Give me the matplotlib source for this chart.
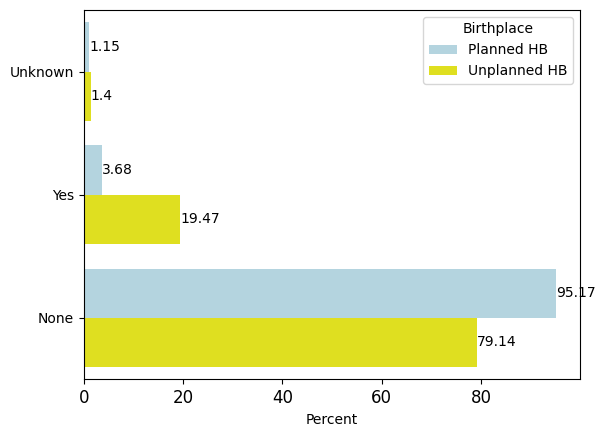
import matplotlib
matplotlib.use("Agg")
import matplotlib.pyplot as plt
import seaborn as sns
import pandas as pd

categories = ["Unknown", "Yes", "None"]
planned = [1.15, 3.68, 95.17]
unplanned = [1.4, 19.47, 79.14]
hue_labels = ["Planned HB", "Unplanned HB"]

df = pd.DataFrame({
    "cat": categories * 2,
    "Percent": planned + unplanned,
    "Birthplace": [hue_labels[0]] * 3 + [hue_labels[1]] * 3,
})

fig, ax = plt.subplots(figsize=(6.06, 4.33), dpi=100)
sns.barplot(data=df, y="cat", x="Percent", hue="Birthplace",
            palette=["lightblue", "yellow"], saturation=0.75, ax=ax, orient="h")
for c in ax.containers:
    ax.bar_label(c, fmt="%g")
ax.set_ylabel("")
ax.set_xlabel("Percent")
ax.tick_params(axis="x", labelsize=12)
fig.subplots_adjust(left=0.138, right=0.957, top=0.977, bottom=0.124)
fig.savefig("out.png", dpi=100)
